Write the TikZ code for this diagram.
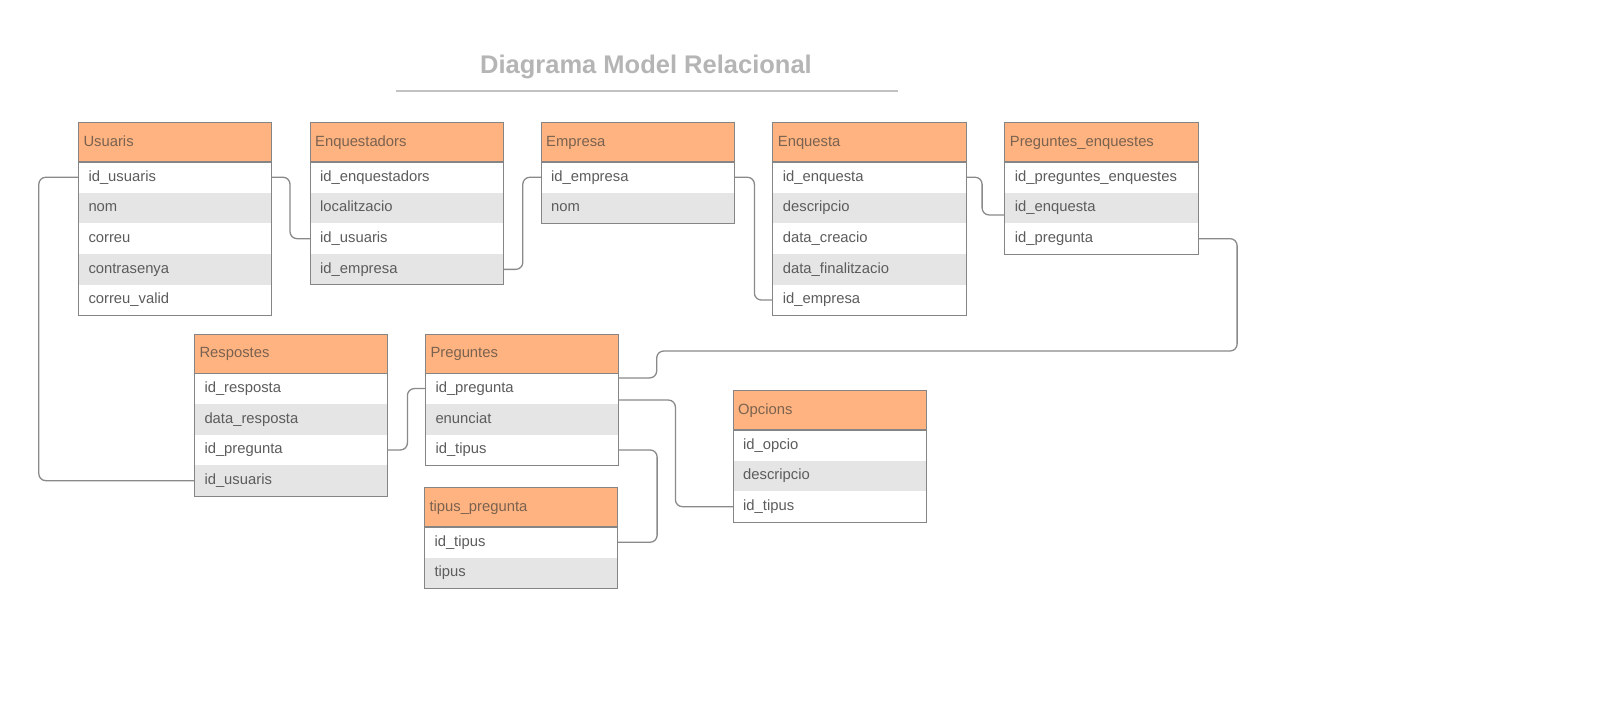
\documentclass[tikz,border=0pt]{standalone}
\usepackage{fontspec}
\setmainfont{Liberation Sans}
\definecolor{hdrfill}{HTML}{FFB380}
\definecolor{hdrtxt}{HTML}{7A6250}
\definecolor{bodytxt}{HTML}{5C5C5C}
\definecolor{rowgrey}{HTML}{E5E5E5}
\definecolor{bordercol}{HTML}{858585}
\definecolor{conncol}{HTML}{8A8A8A}
\definecolor{titlecol}{HTML}{B5B5B5}
\definecolor{rulecol}{HTML}{C2C2C2}
\tikzset{
  hdr/.style={anchor=north west, fill=hdrfill, minimum width=193pt, minimum height=39pt,
    inner xsep=5pt, inner ysep=0pt, text width=183pt, align=left, text height=11pt, text depth=3.5pt,
    font=\fontsize{14.8}{17}\selectfont, text=hdrtxt},
  rowbox/.style={anchor=north west, minimum width=193pt, minimum height=30.7pt,
    inner xsep=10pt, inner ysep=0pt, text width=173pt, align=left, text height=11pt, text depth=3.5pt,
    font=\fontsize{14.8}{17}\selectfont, text=bodytxt},
  border/.style={draw=bordercol, line width=1pt},
  conn/.style={draw=conncol, line width=1.3pt, rounded corners=7pt},
}
\newcommand{\etab}[5]{%
  \node[hdr] (#1) at (#2,#3) {#4};
  \foreach \txt [count=\i] in {#5} {%
    \pgfmathsetmacro\yy{#3+39+(\i-1)*30.7}%
    \ifodd\i\relax \def\rfill{white}\else \def\rfill{rowgrey}\fi
    \node[rowbox, fill=\rfill] (#1-\i) at (#2,\yy) {\txt};
    \xdef\lastrow{#1-\i}%
  }
  \draw[border] (#1.north west) rectangle (\lastrow.south east);
  \draw[border, line width=1.3pt] (#1.south west) -- (#1.south east);
}
\begin{document}
\begin{tikzpicture}[x=1pt,y=-1pt]
\useasboundingbox (0,0) rectangle (1600,718);
\fill[white] (0,0) rectangle (1600,718);
\node[anchor=base, text=titlecol, font=\fontsize{25.5}{30}\selectfont\bfseries, inner sep=0pt] (title) at (646,73.3) {Diagrama Model Relacional};
\coordinate (rl) at (396,91);
\coordinate (rr) at (898,91);
\draw[draw=rulecol, line width=2pt] (rl) -- (rr);

\etab{usu}{78.3}{122.7}{Usuaris}{id\_usuaris, nom, correu, contrasenya, correu\_valid}
\etab{enqr}{310}{122.7}{Enquestadors}{id\_enquestadors, localitzacio, id\_usuaris, id\_empresa}
\etab{emp}{541}{122.7}{Empresa}{id\_empresa, nom}
\etab{enq}{772.7}{122.7}{Enquesta}{id\_enquesta, descripcio, data\_creacio, data\_finalitzacio, id\_empresa}
\etab{pe}{1004.7}{122.7}{Preguntes\_enquestes}{id\_preguntes\_enquestes, id\_enquesta, id\_pregunta}
\etab{res}{194.3}{334}{Respostes}{id\_resposta, data\_resposta, id\_pregunta, id\_usuaris}
\etab{pre}{425.3}{334}{Preguntes}{id\_pregunta, enunciat, id\_tipus}
\etab{tp}{424.3}{487.7}{tipus\_pregunta}{id\_tipus, tipus}
\etab{opc}{733}{390.7}{Opcions}{id\_opcio, descripcio, id\_tipus}

\coordinate (k1) at (656.7,351);
\draw[conn] (usu-1.west) -- ++(-39.5,0) |- (res-4.west);
\draw[conn] (usu-1.east) -- ++(18.3,0) |- (enqr-3.west);
\draw[conn] (enqr-4.east) -- ++(19.4,0) |- (emp-1.west);
\draw[conn] (emp-1.east) -- ++(20,0) |- (enq-5.west);
\draw[conn] (enq-1.east) -- ++(16,0) |- ([yshift=-7pt]pe-2.west);
\draw[conn] (pe-3.east) -- ++(39,0) |- (k1) |- ([yshift=-4.5pt]pre.south east);
\draw[conn] ([yshift=-11.5pt]pre-1.east) -- ++(56.7,0) |- (opc-3.west);
\draw[conn] (pre-3.east) -- ++(38.4,0) |- (tp-1.east);
\draw[conn] (res-3.east) -- ++(19.7,0) |- (pre-1.west);
\end{tikzpicture}
\end{document}
